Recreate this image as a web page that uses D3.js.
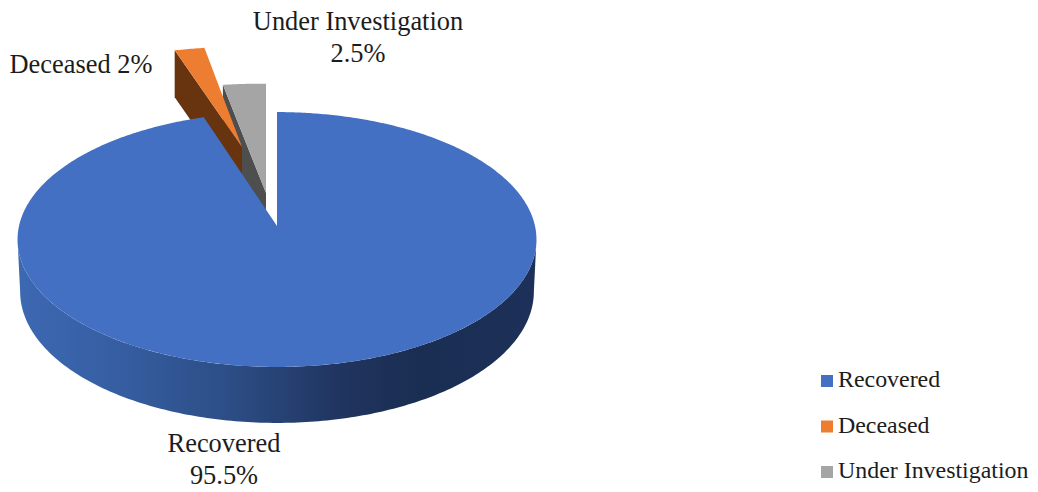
<!DOCTYPE html>
<html>
<head>
<meta charset="utf-8">
<script src="https://cdn.jsdelivr.net/npm/d3@7/dist/d3.min.js"></script>
<style>
html,body{margin:0;padding:0;background:#fff;}
svg{display:block;}
text{font-family:"Liberation Serif","Times New Roman",serif;fill:#1c1c1c;}
</style>
</head>
<body>
<svg id="chart" width="1038" height="492"></svg>
<script>
const categories = ["Recovered", "Deceased", "Under Investigation"];
const values = [95.5, 2, 2.5];
const colors = ["#4370c3", "#ed7d31", "#a5a5a5"];
const sideColors = [null, "#68340f", "#4e4e4e"];
const pointLabels = [["Recovered", "95.5%"], ["Deceased 2%"], ["Under Investigation", "2.5%"]];

const svg = d3.select("#chart");
const cx = 277, cy = 226, rX = 258, rY = 126, persp = 0.106;
const depthFront = 56, depthBack = 47;

// slice placement: offset of the tip from the centre and stretch of the exploded wedge
const explode = [
  {dx: 0, dy: 0, sx: 1, sy: 1, endFix: -2 * Math.PI / 180},
  {dx: -35, dy: -79, sx: 1.03, sy: 0.88, endFix: 0},
  {dx: -11, dy: -33, sx: 1.18, sy: 0.96, endFix: 0}
];

// perspective projection of the unit disc
function project(theta) {
  const u = Math.sin(theta), v = Math.cos(theta), w = 1 + persp * v;
  return [rX * u / w, -rY * v / w];
}
function depthAt(theta) {
  const v = Math.cos(theta);
  return (depthFront + depthBack) / 2 - (depthFront - depthBack) / 2 * v;
}

const pie = d3.pie().sort(null).value(d => d).startAngle(0).endAngle(2 * Math.PI);
const arcs = pie(values);
const line = d3.line().curve(d3.curveLinear);

function wedge(i) {
  const a = arcs[i], e = explode[i];
  const t0 = a.startAngle, t1 = a.endAngle + e.endFix;
  const n = Math.max(6, Math.ceil((t1 - t0) / 0.01));
  const angle = d3.scaleLinear().domain([0, n]).range([t0, t1]);
  const ox = cx + e.dx, oy = cy + e.dy;
  const rim = d3.range(n + 1).map(k => {
    const p = project(angle(k));
    return [ox + p[0] * e.sx, oy + p[1] * e.sy];
  });
  return {tip: [ox, oy], rim};
}

// ---- exploded wedges, back to front: gray, then orange, then the main disc
[2, 1].forEach(i => {
  const w = wedge(i);
  const d = depthBack;
  const l = w.rim[0];
  svg.append("path")
    .attr("d", line([w.tip, l, [l[0], l[1] + d], [w.tip[0], w.tip[1] + d]]) + "Z")
    .attr("fill", sideColors[i]);
  svg.append("path")
    .attr("d", line([w.tip, ...w.rim]) + "Z")
    .attr("fill", colors[i]);
});

// ---- side wall of the main disc
const defs = svg.append("defs");
const grad = defs.append("linearGradient").attr("id", "wall")
  .attr("gradientUnits", "userSpaceOnUse")
  .attr("x1", cx - rX).attr("x2", cx + rX).attr("y1", 0).attr("y2", 0);
[[0, "#3d68b2"], [0.18, "#365fa3"], [0.42, "#2c4c84"], [0.62, "#20355f"], [0.78, "#1a2d52"], [1, "#1d3059"]]
  .forEach(s => grad.append("stop").attr("offset", s[0]).attr("stop-color", s[1]));

const widest = Math.acos(-persp);
const wallAngle = d3.scaleLinear().domain([0, 200]).range([widest, 2 * Math.PI - widest]);
const topEdge = d3.range(201).map(k => {
  const t = wallAngle(k), p = project(t);
  return [cx + p[0], cy + p[1]];
});
const bottomEdge = d3.range(200, -1, -1).map(k => {
  const t = wallAngle(k), p = project(t);
  return [cx + p[0] * 0.99, cy + p[1] + depthAt(t)];
});
svg.append("path")
  .attr("d", line(topEdge.concat(bottomEdge)) + "Z")
  .attr("fill", "url(#wall)");

// ---- top of the main disc
const main = wedge(0);
svg.append("path")
  .attr("d", line([main.tip, ...main.rim]) + "Z")
  .attr("fill", colors[0]);

// ---- point labels
const labelPos = [
  {x: 224, y: 452},
  {x: 81, y: 73},
  {x: 358, y: 30}
];
pointLabels.forEach((lines, i) => {
  lines.forEach((t, j) => {
    svg.append("text")
      .attr("x", labelPos[i].x)
      .attr("y", labelPos[i].y + j * 31.5)
      .attr("text-anchor", "middle")
      .attr("font-size", 26.4)
      .text(t);
  });
});

// ---- legend
const legendY = d3.scalePoint().domain(categories).range([387, 478]);
categories.forEach((c, i) => {
  svg.append("rect")
    .attr("x", 821).attr("y", legendY(c) - 12)
    .attr("width", 12).attr("height", 12)
    .attr("fill", colors[i]);
  svg.append("text")
    .attr("x", 838).attr("y", legendY(c))
    .attr("font-size", 23.9)
    .text(c);
});
</script>
</body>
</html>
